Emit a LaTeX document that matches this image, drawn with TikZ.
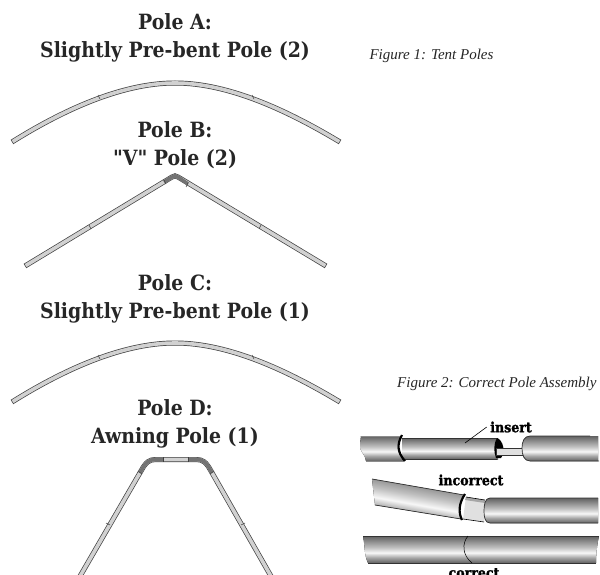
\documentclass[tikz,border=0pt]{standalone}
\usepackage{fontspec}
\setmainfont{Liberation Serif}
\newfontfamily\headfont{DejaVu Serif Condensed}
\newfontfamily\labelfont[FakeBold=1.6]{DejaVu Serif Condensed Bold}
\colorlet{poleline}{black!75}
\colorlet{polefill}{black!18}
\colorlet{polejoint}{black!55}
\colorlet{tubedark}{black!62}
\colorlet{tubemid}{black!35}
\pgfdeclareverticalshading{tubeshade}{100bp}{color(0bp)=(tubedark); color(25bp)=(tubedark); color(35bp)=(tubemid); color(44bp)=(black!3); color(54bp)=(black!25); color(75bp)=(tubedark); color(100bp)=(tubedark)}
\tikzset{
	title/.style={font=\headfont\bfseries\fontsize{21}{28}\selectfont, align=center, text=black!85},
	caption/.style={font=\itshape\fontsize{15}{17}\selectfont, text=black!85},
	tubelabel/.style={font=\labelfont\fontsize{14}{16}\selectfont},
	poleout/.style={line width=5pt, draw=poleline},
	polein/.style={line width=3.6pt, draw=polefill, shorten >=.7pt, shorten <=.7pt},
	polebend/.style={line width=3.6pt, draw=polejoint},
	joint/.style={line width=.5pt, draw=poleline},
	tube/.style={shading=tubeshade},
	tubeedge/.style={line width=.7pt, draw=black!80},
	collar/.style={line width=2.2pt, draw=black}
}
\begin{document}
\begin{tikzpicture}[x=1pt, y=-1pt]
	\clip (0,0) rectangle (600,575);
	\fill[white] (0,0) rectangle (600,575);

	% titel der stangen
	\node[title] (titleA) at (175,38) {Pole A:\\Slightly Pre-bent Pole (2)};
	\node[title] (titleB) at (175,145) {Pole B:\\"V" Pole (2)};
	\node[title] (titleC) at (175,299) {Pole C:\\Slightly Pre-bent Pole (1)};
	\node[title] (titleD) at (175,424) {Pole D:\\Awning Pole (1)};
	\node[caption, anchor=west] (figA) at (366,56) {Figure 1: Tent Poles};
	\node[caption, anchor=east] (figB) at (600,384) {Figure 2: Correct Pole Assembly};

	% pole A
	\def\archpath{(12,142) .. controls (60,112) and (120,83) .. (175,83) .. controls (230,83) and (290,112) .. (340,142)}
	\draw[poleout] \archpath;
	\draw[polein] \archpath;
	\draw[joint] (98,95) -- (100,99);
	\draw[joint] (252,95) -- (254,99);

	% pole C
	\begin{scope}[yshift=-260pt]
		\draw[poleout] \archpath;
		\draw[polein] \archpath;
		\draw[joint] (98,95) -- (100,99);
		\draw[joint] (252,95) -- (254,99);
	\end{scope}

	% pole B
	\def\veepath{(25,266) -- (172,177) .. controls (175,175.5) .. (178,177) -- (326,266)}
	\draw[poleout] \veepath;
	\draw[polein] \veepath;
	\draw[polebend] (164,182) -- (172,177) .. controls (175,175.5) .. (178,177) -- (188,184);
	\draw[joint] (164,180) -- (166,184);
	\draw[joint] (188,183) -- (186,187);
	\draw[joint] (89,225) -- (91,229);
	\draw[joint] (261,225) -- (259,229);

	% pole D
	\def\awnpath{(79,578) -- (141,471) .. controls (146,462) and (149,459.5) .. (156,459.5) -- (196,459.5) .. controls (203,459.5) and (206,462) .. (211,471) -- (272,578)}
	\draw[poleout] \awnpath;
	\draw[polein] \awnpath;
	\draw[polebend] (140,473) -- (141,471) .. controls (146,462) and (149,459.5) .. (156,459.5) -- (163,459.5);
	\draw[polebend] (188,459.5) -- (196,459.5) .. controls (203,459.5) and (206,462) .. (211,471) -- (212,473);
	\draw[joint] (163,457) -- (163,462);
	\draw[joint] (188,457) -- (188,462);
	\draw[joint] (138,471) -- (142,474);
	\draw[joint] (214,471) -- (210,474);
	\draw[joint] (106,523) -- (110,525);
	\draw[joint] (245,523) -- (241,525);

	% tube 1: insert
	\fill[tube] (361,436) -- (401,436) .. controls (396,444) and (396,452) .. (404,461) -- (366,461) .. controls (366,455) and (358,450) .. (360,444) -- cycle;
	\draw[tubeedge, black!45] (361,436) -- (401,436);
	\draw[tubeedge, black!45] (366,461) -- (404,461);
	\fill[tube] (402,438) rectangle (498,459);
	\draw[tubeedge] (402,438.5) -- (497,438.5);
	\draw[tubeedge] (402,459) -- (497,459);
	\draw[collar] (402,435) .. controls (397,444) and (397,452) .. (405,461);
	\fill[black] (497,438) .. controls (503,440) and (506,452) .. (501,458) -- (496,458) .. controls (494,452) and (493,445) .. (497,438);
	\fill[black!12, draw=black!80, line width=.5pt] (496,448.5) rectangle (523,455);
	\fill[tube] (598,436) -- (530,436) .. controls (524,436) and (522,442) .. (522,448) .. controls (522,455) and (524,461) .. (530,461) -- (598,461) -- cycle;
	\draw[tubeedge] (590,436) -- (530,436) .. controls (524,436) and (522,442) .. (522,448) .. controls (522,455) and (524,461) .. (530,461) -- (599,461);
	\node[tubelabel] (insert) at (511,427) {insert};
	\coordinate (insertend) at (465,443);
	\draw[line width=.6pt] (insert.west) -- (insertend);

	% tube 2: incorrect
	\fill[tube, shading angle=-10] (372,479) -- (464,495) .. controls (459,503) and (458,512) .. (461,519) -- (375,505) .. controls (374,496) and (373,488) .. cycle;
	\draw[tubeedge] (372,479) -- (464,495);
	\draw[tubeedge] (375,505) -- (461,519);
	\fill[black!12] (466,497) -- (485,500) -- (484,522) -- (463,519) -- cycle;
	\fill[black!35] (466,497) -- (485,500) -- (485,503) -- (465,500) -- cycle;
	\draw[line width=.6pt] (466,497) -- (485,500);
	\draw[line width=.6pt] (463,519) -- (484,522);
	\draw[collar] (465,494) .. controls (459,503) and (458,512) .. (462,520);
	\fill[tube] (598,498) -- (490,498) .. controls (485,498) and (484,505) .. (484,511) .. controls (484,517) and (485,523) .. (490,523) -- (598,523) -- cycle;
	\draw[tubeedge] (598,498) -- (490,498) .. controls (485,498) and (484,505) .. (484,511) .. controls (484,517) and (485,523) .. (490,523) -- (598,523);
	\node[tubelabel] (incorrect) at (471,480) {incorrect};

	% tube 3: correct
	\fill[tube] (363,536) -- (599,536) .. controls (597,545) and (596,555) .. (596,563) -- (368,563) .. controls (364,555) and (365,545) .. cycle;
	\draw[tubeedge] (363,536) -- (599,536);
	\draw[tubeedge] (368,563) -- (596,563);
	\draw[line width=.5pt] (468,536) .. controls (462,543) and (462,555) .. (472,563);
	\node[tubelabel] (correct) at (474,573) {correct};
\end{tikzpicture}
\end{document}
